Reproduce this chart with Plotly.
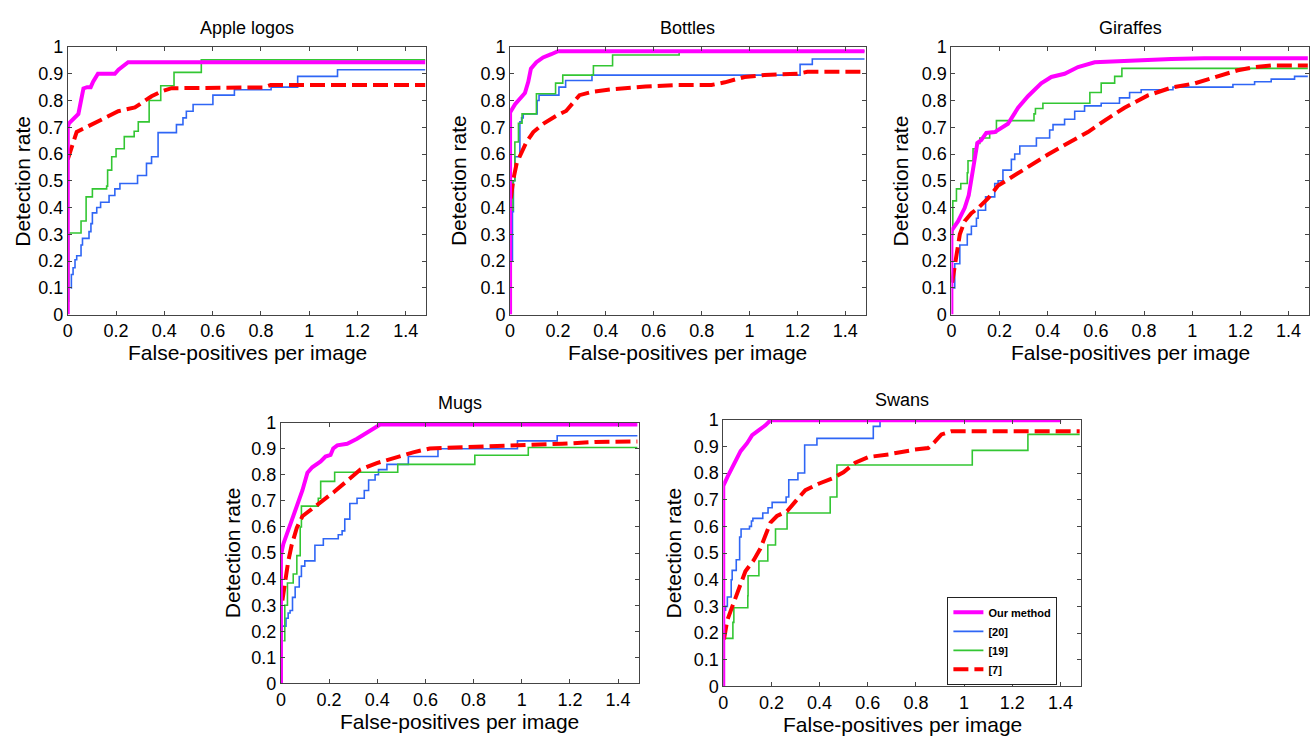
import plotly.graph_objects as go

W, H = 1314, 747
FONT = "Liberation Sans, Arial, sans-serif"

# ---- series styles ----
C_OURS, C_20, C_19, C_7 = "#ff00ff", "#2f66f5", "#33c633", "#ff0000"
SERIES_NAMES = ["Our method", "[20]", "[19]", "[7]"]

# ---- x tick labels / y tick labels ----
x_ticks = [0, 0.2, 0.4, 0.6, 0.8, 1, 1.2, 1.4]
y_ticks = [0, 0.1, 0.2, 0.3, 0.4, 0.5, 0.6, 0.7, 0.8, 0.9, 1]
panel_titles = ["Apple logos", "Bottles", "Giraffes", "Mugs", "Swans"]

# ================= Apple logos =================
apple_ours_x = [0, 0, 0.005, 0.02, 0.044, 0.055, 0.065, 0.08, 0.095, 0.105, 0.125, 0.195, 0.21, 0.25, 1.48]
apple_ours_y = [0, 0.70, 0.715, 0.73, 0.75, 0.80, 0.845, 0.85, 0.85, 0.87, 0.90, 0.90, 0.915, 0.943, 0.943]
apple_20_x = [0.012, 0.015, 0.022, 0.03, 0.037, 0.055, 0.061, 0.088, 0.096, 0.102, 0.12, 0.136, 0.171, 0.195,
              0.216, 0.289, 0.326, 0.347, 0.374, 0.45, 0.477, 0.491, 0.519, 0.601, 0.69, 0.842, 0.952, 1.117, 1.48]
apple_20_y = [0.10, 0.15, 0.175, 0.205, 0.22, 0.26, 0.285, 0.31, 0.34, 0.38, 0.40, 0.42, 0.445, 0.47,
              0.49, 0.52, 0.565, 0.59, 0.68, 0.71, 0.735, 0.76, 0.785, 0.82, 0.84, 0.85, 0.89, 0.915, 0.915]
apple_19_x = [0.003, 0.004, 0.055, 0.076, 0.102, 0.161, 0.165, 0.182, 0.2, 0.234, 0.275, 0.292, 0.337, 0.385,
              0.44, 0.553, 1.48]
apple_19_y = [0.05, 0.305, 0.35, 0.44, 0.47, 0.48, 0.54, 0.59, 0.62, 0.665, 0.685, 0.72, 0.80, 0.855,
              0.905, 0.952, 0.952]
apple_7_x = [0, 0.0165, 0.037, 0.065, 0.106, 0.154, 0.209, 0.278, 0.32, 0.347, 0.388, 0.43, 0.81, 0.84, 1.48]
apple_7_y = [0.58, 0.629, 0.683, 0.695, 0.713, 0.738, 0.76, 0.774, 0.798, 0.816, 0.834, 0.846, 0.849, 0.858, 0.858]

# ================= Bottles =================
bottles_ours_x = [0, 0, 0.021, 0.041, 0.062, 0.076, 0.087, 0.11, 0.138, 0.172, 0.2, 1.48]
bottles_ours_y = [0, 0.755, 0.786, 0.804, 0.828, 0.87, 0.919, 0.943, 0.961, 0.973, 0.984, 0.984]
bottles_20_x = [0.008, 0.01, 0.014, 0.02, 0.041, 0.048, 0.055, 0.113, 0.121, 0.204, 0.232, 0.342, 1.211, 1.262, 1.48]
bottles_20_y = [0.2, 0.385, 0.5, 0.59, 0.72, 0.735, 0.75, 0.80, 0.82, 0.85, 0.875, 0.895, 0.935, 0.955, 0.955]
bottles_19_x = [0.006, 0.012, 0.02, 0.035, 0.05, 0.11, 0.19, 0.22, 0.348, 0.428, 0.706, 1.48]
bottles_19_y = [0.39, 0.5, 0.645, 0.715, 0.75, 0.825, 0.865, 0.895, 0.93, 0.97, 0.985, 0.985]
bottles_7_x = [0.003, 0.014, 0.028, 0.048, 0.069, 0.097, 0.138, 0.193, 0.234, 0.262, 0.29, 0.345, 0.428, 0.566,
               0.703, 0.841, 0.897, 0.979, 1.062, 1.2, 1.241, 1.48]
bottles_7_y = [0.434, 0.507, 0.567, 0.604, 0.646, 0.682, 0.713, 0.743, 0.761, 0.79, 0.82, 0.833, 0.842, 0.852,
               0.858, 0.858, 0.868, 0.888, 0.895, 0.9, 0.907, 0.907]

# ================= Giraffes =================
giraffes_ours_x = [0, 0, 0.028, 0.055, 0.072, 0.083, 0.097, 0.108, 0.124, 0.145, 0.18, 0.235, 0.277, 0.318,
                   0.373, 0.415, 0.47, 0.526, 0.595, 0.719, 0.913, 1.05, 1.48]
giraffes_ours_y = [0, 0.313, 0.349, 0.398, 0.446, 0.507, 0.604, 0.642, 0.652, 0.679, 0.682, 0.713, 0.773, 0.816,
                   0.864, 0.888, 0.9, 0.925, 0.943, 0.949, 0.955, 0.958, 0.958]
giraffes_20_x = [0.004, 0.014, 0.035, 0.066, 0.083, 0.104, 0.111, 0.142, 0.18, 0.194, 0.214, 0.249, 0.263, 0.284,
                 0.353, 0.408, 0.422, 0.47, 0.512, 0.553, 0.622, 0.698, 0.74, 0.788, 0.92, 1.169, 1.259, 1.328,
                 1.425, 1.48]
giraffes_20_y = [0.10, 0.19, 0.26, 0.30, 0.33, 0.36, 0.39, 0.44, 0.49, 0.50, 0.54, 0.58, 0.60, 0.63,
                 0.66, 0.69, 0.71, 0.73, 0.76, 0.78, 0.79, 0.81, 0.83, 0.84, 0.85, 0.86, 0.87, 0.88,
                 0.89, 0.89]
giraffes_19_x = [0.005, 0.006, 0.021, 0.039, 0.066, 0.069, 0.09, 0.104, 0.118, 0.159, 0.187, 0.343, 0.349, 0.38,
                 0.575, 0.622, 0.678, 0.708, 1.48]
giraffes_19_y = [0.30, 0.425, 0.47, 0.49, 0.53, 0.575, 0.62, 0.64, 0.66, 0.68, 0.725, 0.75, 0.77, 0.79,
                 0.83, 0.865, 0.89, 0.92, 0.92]
giraffes_7_x = [0.003, 0.014, 0.025, 0.035, 0.055, 0.083, 0.111, 0.152, 0.194, 0.249, 0.318, 0.401, 0.47, 0.567,
                0.636, 0.719, 0.816, 0.913, 1.01, 1.12, 1.189, 1.259, 1.328, 1.48]
giraffes_7_y = [0.119, 0.19, 0.25, 0.30, 0.349, 0.379, 0.398, 0.434, 0.482, 0.513, 0.555, 0.598, 0.634, 0.682,
                0.725, 0.773, 0.819, 0.848, 0.864, 0.895, 0.913, 0.925, 0.931, 0.931]

# ================= Mugs =================
mugs_ours_x = [0, 0, 0.01, 0.034, 0.048, 0.069, 0.089, 0.11, 0.13, 0.165, 0.185, 0.206, 0.217, 0.234, 0.275,
               0.316, 0.357, 0.398, 0.412, 1.48]
mugs_ours_y = [0, 0.492, 0.535, 0.597, 0.641, 0.684, 0.74, 0.808, 0.829, 0.851, 0.87, 0.876, 0.901, 0.913, 0.919,
               0.938, 0.963, 0.988, 0.993, 0.993]
mugs_20_x = [0.004, 0.004, 0.021, 0.03, 0.038, 0.048, 0.059, 0.076, 0.085, 0.099, 0.141, 0.176, 0.238, 0.254,
             0.265, 0.286, 0.316, 0.346, 0.364, 0.391, 0.405, 0.44, 0.529, 0.652, 0.982, 1.147, 1.48]
mugs_20_y = [0, 0.22, 0.25, 0.27, 0.28, 0.33, 0.37, 0.41, 0.45, 0.47, 0.53, 0.555, 0.57, 0.585,
             0.63, 0.69, 0.71, 0.74, 0.78, 0.80, 0.82, 0.84, 0.87, 0.90, 0.93, 0.95, 0.95]
mugs_19_x = [0.01, 0.016, 0.027, 0.051, 0.066, 0.08, 0.085, 0.155, 0.165, 0.223, 0.485, 0.805, 1.027, 1.48]
mugs_19_y = [0.164, 0.30, 0.385, 0.42, 0.49, 0.60, 0.68, 0.71, 0.775, 0.81, 0.84, 0.875, 0.905, 0.905]
mugs_7_x = [0.006, 0.016, 0.03, 0.044, 0.066, 0.089, 0.124, 0.165, 0.22, 0.275, 0.33, 0.398, 0.467, 0.549,
            0.618, 0.687, 0.824, 1.03, 1.168, 1.305, 1.48]
mugs_7_y = [0.318, 0.393, 0.467, 0.529, 0.597, 0.641, 0.665, 0.696, 0.734, 0.777, 0.82, 0.845, 0.864, 0.886,
            0.901, 0.903, 0.906, 0.913, 0.919, 0.926, 0.928]

# ================= Swans =================
swans_ours_x = [0, 0, 0.017, 0.044, 0.072, 0.099, 0.12, 0.148, 0.175, 0.196, 1.403]
swans_ours_y = [0, 0.752, 0.785, 0.833, 0.882, 0.912, 0.942, 0.961, 0.979, 0.998, 0.998]
swans_20_x = [0.0055, 0.0097, 0.017, 0.033, 0.037, 0.054, 0.068, 0.074, 0.109, 0.117, 0.123, 0.164, 0.186, 0.203,
              0.261, 0.272, 0.31, 0.338, 0.389, 0.606, 0.623, 0.651, 0.67]
swans_20_y = [0.286, 0.30, 0.335, 0.40, 0.435, 0.475, 0.56, 0.59, 0.60, 0.62, 0.63, 0.65, 0.67, 0.69,
              0.71, 0.775, 0.80, 0.905, 0.93, 0.93, 0.975, 1.0, 1.0]
swans_19_x = [0.003, 0.003, 0.04, 0.044, 0.102, 0.103, 0.148, 0.185, 0.217, 0.265, 0.444, 0.472, 1.034, 1.265, 1.48]
swans_19_y = [0, 0.18, 0.24, 0.295, 0.34, 0.415, 0.47, 0.53, 0.59, 0.65, 0.71, 0.83, 0.885, 0.945, 0.945]
swans_7_x = [0.003, 0.017, 0.037, 0.065, 0.092, 0.127, 0.154, 0.175, 0.196, 0.223, 0.265, 0.299, 0.341, 0.396,
             0.451, 0.499, 0.548, 0.603, 0.686, 0.796, 0.851, 0.879, 0.906, 0.948, 1.48]
swans_7_y = [0.176, 0.249, 0.298, 0.371, 0.432, 0.474, 0.517, 0.566, 0.614, 0.639, 0.657, 0.693, 0.736, 0.76,
             0.779, 0.803, 0.839, 0.86, 0.87, 0.888, 0.894, 0.918, 0.945, 0.957, 0.957]

panels = [
    (apple_ours_x, apple_ours_y, apple_20_x, apple_20_y, apple_19_x, apple_19_y, apple_7_x, apple_7_y),
    (bottles_ours_x, bottles_ours_y, bottles_20_x, bottles_20_y, bottles_19_x, bottles_19_y, bottles_7_x, bottles_7_y),
    (giraffes_ours_x, giraffes_ours_y, giraffes_20_x, giraffes_20_y, giraffes_19_x, giraffes_19_y, giraffes_7_x, giraffes_7_y),
    (mugs_ours_x, mugs_ours_y, mugs_20_x, mugs_20_y, mugs_19_x, mugs_19_y, mugs_7_x, mugs_7_y),
    (swans_ours_x, swans_ours_y, swans_20_x, swans_20_y, swans_19_x, swans_19_y, swans_7_x, swans_7_y),
]

# plot-area boxes in pixels: left, right, top, bottom
boxes = [
    (63, 423, 38, 313),
    (507, 864, 38, 313),
    (950, 1309, 38, 313),
    (277, 636, 424, 692),
    (721, 1080, 421, 695),
]
# y-title horizontal centre for each panel
ytitle_x = [18, 456, 899, 228, 671]

fig = go.Figure()
layout = dict(
    width=W, height=H,
    margin=dict(l=0, r=0, t=0, b=0),
    paper_bgcolor="white", plot_bgcolor="white",
    font=dict(family=FONT, color="black"),
    annotations=[],
)

for i, (box, data) in enumerate(zip(boxes, panels)):
    l, r, t, b = box
    ax = "" if i == 0 else str(i + 1)
    xa, ya = "x" + ax, "y" + ax
    ox, oy, x20, y20, x19, y19, x7, y7 = data

    # drawing order: dashed [7] and step curves beneath "Our method"
    fig.add_trace(go.Scatter(x=x20, y=y20, mode="lines", line=dict(color=C_20, width=1.6, shape="hv"),
                             name=SERIES_NAMES[1], showlegend=(i == 4), legendrank=2, xaxis=xa, yaxis=ya))
    fig.add_trace(go.Scatter(x=x19, y=y19, mode="lines", line=dict(color=C_19, width=1.6, shape="hv"),
                             name=SERIES_NAMES[2], showlegend=(i == 4), legendrank=3, xaxis=xa, yaxis=ya))
    fig.add_trace(go.Scatter(x=x7, y=y7, mode="lines", line=dict(color=C_7, width=4, dash="15px,6px"),
                             name=SERIES_NAMES[3], showlegend=(i == 4), legendrank=4, xaxis=xa, yaxis=ya))
    fig.add_trace(go.Scatter(x=ox, y=oy, mode="lines", line=dict(color=C_OURS, width=4),
                             name=SERIES_NAMES[0], showlegend=(i == 4), legendrank=1, xaxis=xa, yaxis=ya))

    axis_common = dict(
        showline=True, linecolor="#444", linewidth=1, mirror="ticks",
        ticks="inside", ticklen=4, tickcolor="#444", tickwidth=1,
        showgrid=False, zeroline=False, fixedrange=True,
        tickfont=dict(family=FONT, size=18, color="black"),
    )
    layout["xaxis" + ax] = dict(axis_common, domain=[l / W, r / W], range=[0, 1.485],
                                tickvals=x_ticks, ticktext=[str(v) for v in x_ticks],
                                anchor=ya)
    layout["yaxis" + ax] = dict(axis_common, domain=[1 - b / H, 1 - t / H], range=[0, 1],
                                tickvals=y_ticks, ticktext=[str(v) for v in y_ticks],
                                anchor=xa)

    cx = (l + r) / 2
    # panel title
    layout["annotations"].append(dict(
        text=panel_titles[i], x=cx / W, y=1 - (t - 20) / H, xref="paper", yref="paper",
        xanchor="center", yanchor="middle", showarrow=False,
        font=dict(family=FONT, size=18, color="black")))
    # x-axis title
    layout["annotations"].append(dict(
        text="False-positives per image", x=cx / W, y=1 - (b + 39) / H, xref="paper", yref="paper",
        xanchor="center", yanchor="middle", showarrow=False,
        font=dict(family=FONT, size=21, color="black")))
    # y-axis title
    layout["annotations"].append(dict(
        text="Detection rate", x=ytitle_x[i] / W, y=1 - ((t + b) / 2) / H, xref="paper", yref="paper",
        xanchor="center", yanchor="middle", textangle=-90, showarrow=False,
        font=dict(family=FONT, size=21, color="black")))

layout["legend"] = dict(
    x=946 / W, y=1 - 603 / H, xanchor="left", yanchor="top",
    bgcolor="white", bordercolor="#222", borderwidth=1,
    font=dict(family=FONT, size=11, color="black", weight="bold"),
    tracegroupgap=0, itemwidth=30,
)

fig.update_layout(**layout)
fig.write_html("out.html")
